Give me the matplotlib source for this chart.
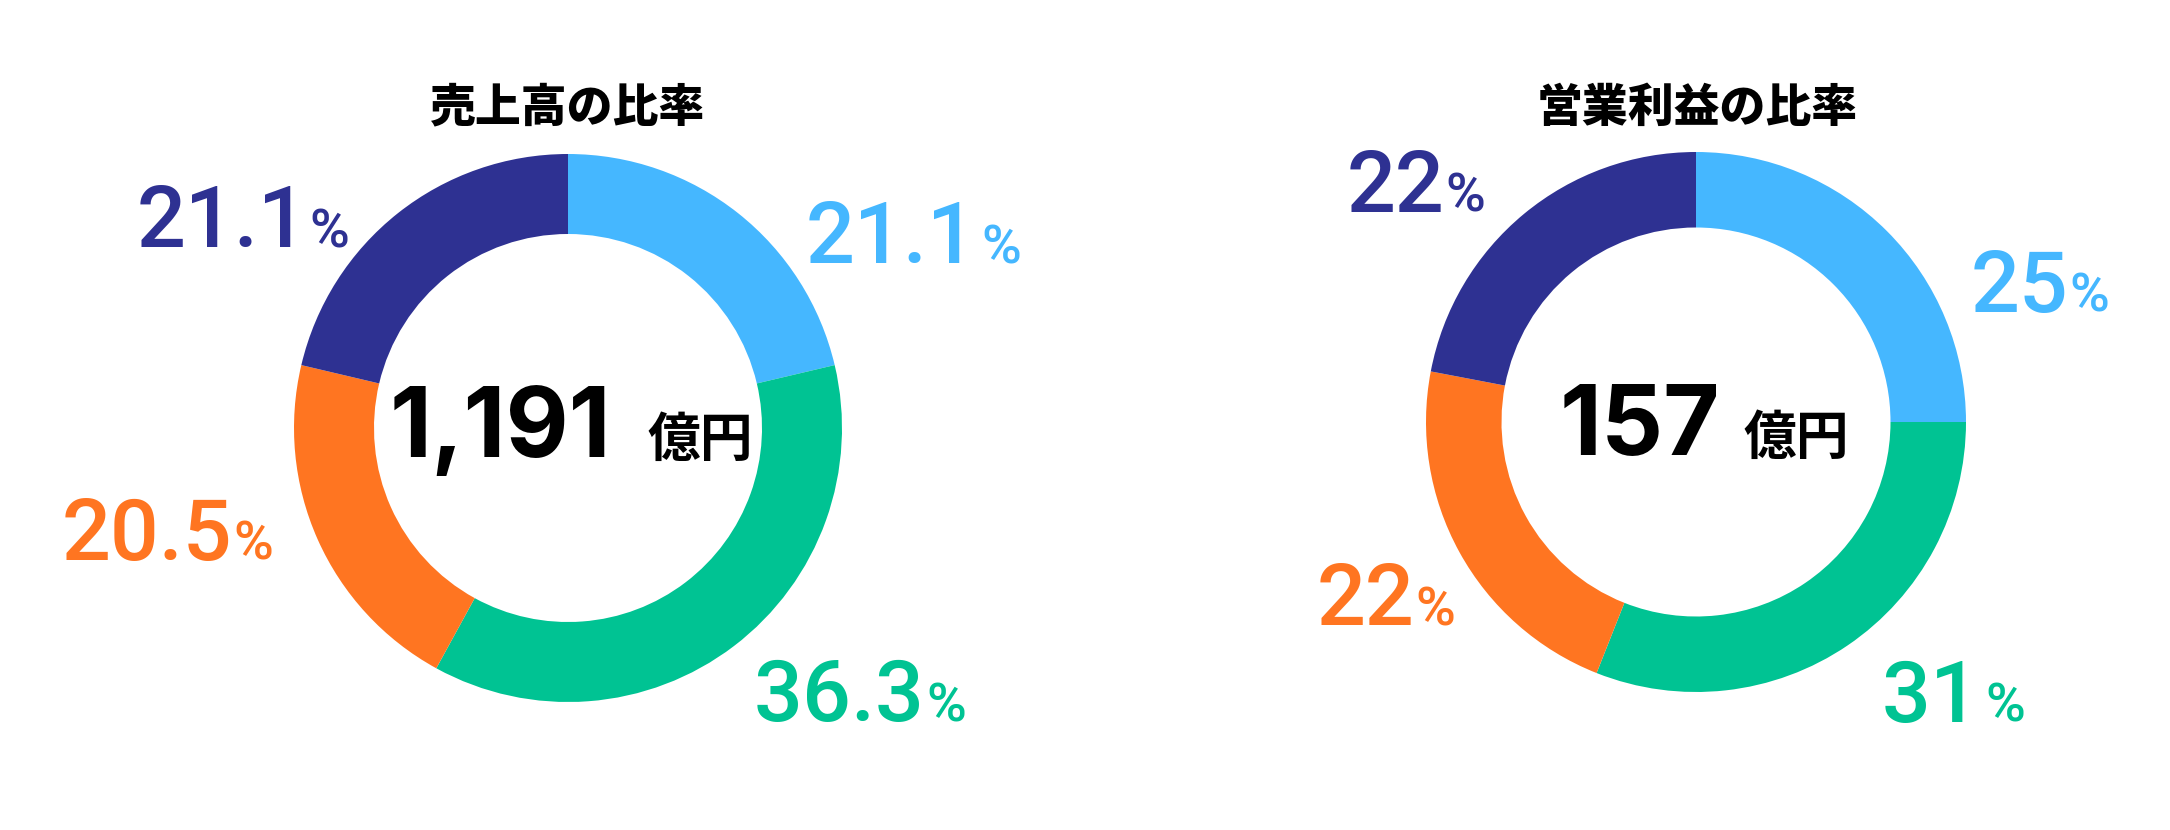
import matplotlib
matplotlib.use("Agg")
import matplotlib.pyplot as plt

# ---- data ----
segments = ["セグメントA", "セグメントB", "セグメントC", "セグメントD"]
sales_share = [21.1, 36.3, 20.5, 21.1]
profit_share = [25, 31, 22, 22]
sales_total = "1,191"
profit_total = "157"
unit = "億円"
titles = ["売上高の比率", "営業利益の比率"]
colors = ["#45B7FF", "#00C393", "#FF7521", "#2E3192"]

NUM_FONT = ["Roboto", "DejaVu Sans"]
TOTAL_FONT = ["Inter", "DejaVu Sans"]
CJK_FONT = ["Noto Sans CJK JP", "DejaVu Sans"]

W, H = 2170, 830
fig = plt.figure(figsize=(W / 100, H / 100), dpi=100)
ax = fig.add_axes([0, 0, 1, 1])


def Y(py):
    return H - py


def donut(values, center, r_out, r_in):
    ax.pie(values, colors=colors, startangle=90, counterclock=False,
           center=(center[0], Y(center[1])), radius=r_out,
           wedgeprops=dict(width=r_out - r_in, linewidth=0), frame=True)


donut(sales_share, (568, 428), 274, 194)
donut(profit_share, (1696, 422), 270, 194.5)
ax.set_xlim(0, W)
ax.set_ylim(0, H)
ax.set_aspect("equal")
ax.axis("off")

# titles
ax.text(568, Y(108), titles[0], ha="center", va="center", fontsize=33,
        fontweight="black", family=CJK_FONT, color="#000000")
ax.text(1697, Y(108), titles[1], ha="center", va="center", fontsize=33,
        fontweight="black", family=CJK_FONT, color="#000000")

# percentage label anchors: (number left edge, baseline, gap before %)
sales_pos = [(806, 263, 4), (754, 721, 1), (62, 560, 1), (137, 247, 1)]
profit_pos = [(1971, 312, 1), (1882, 722, 5), (1317, 625, 1), (1347, 212, 1)]


def labels(values, pos):
    for v, c, (xl, yb, gap) in zip(values, colors, pos):
        t = ax.text(xl, Y(yb), f"{v}", ha="left", va="baseline", fontsize=62,
                    fontweight="medium", family=NUM_FONT, color=c)
        ax.annotate("%", xy=(1, Y(yb)), xycoords=(t, "data"),
                    xytext=(gap, 0), textcoords="offset pixels",
                    ha="left", va="baseline", fontsize=39,
                    fontweight="medium", family=NUM_FONT, color=c)


labels(sales_share, sales_pos)
labels(profit_share, profit_pos)

# centre totals
ax.text(390, Y(457), sales_total, ha="left", va="baseline", fontsize=70,
        fontweight="bold", family=TOTAL_FONT, color="#000000")
ax.text(647, Y(456), unit, ha="left", va="baseline", fontsize=38,
        fontweight="bold", family=CJK_FONT, color="#000000")
ax.text(1560, Y(455), profit_total, ha="left", va="baseline", fontsize=70,
        fontweight="bold", family=TOTAL_FONT, color="#000000")
ax.text(1743, Y(454), unit, ha="left", va="baseline", fontsize=38,
        fontweight="bold", family=CJK_FONT, color="#000000")

fig.savefig("out.png", dpi=100, facecolor="white")
